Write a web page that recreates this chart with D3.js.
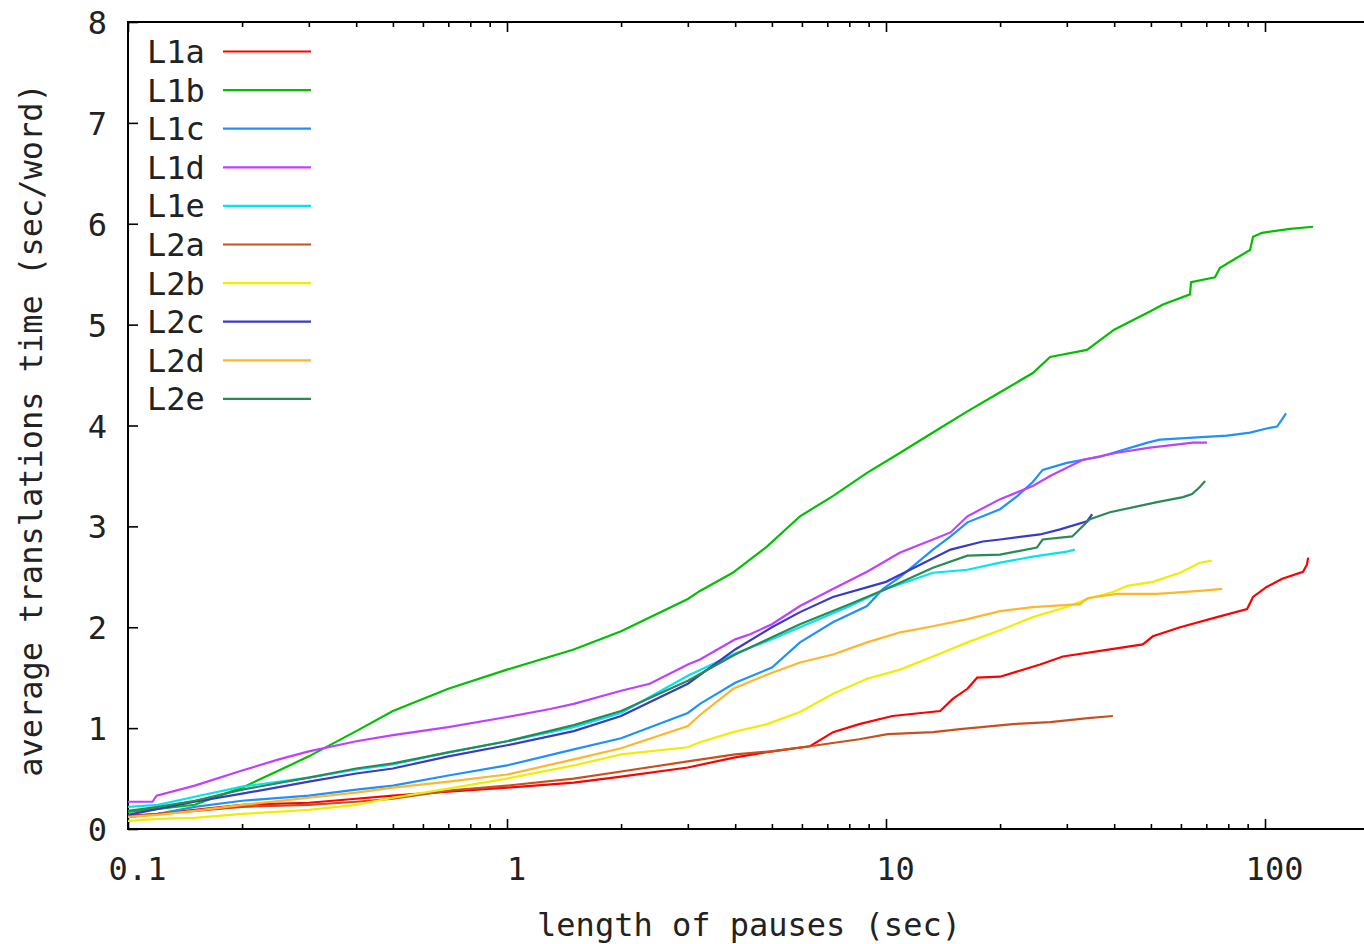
<!DOCTYPE html>
<html>
<head>
<meta charset="utf-8">
<script src="https://cdn.jsdelivr.net/npm/d3@7/dist/d3.min.js"></script>
<style>
  html, body { margin: 0; padding: 0; background: #fff; }
  svg { display: block; }
  text { font-family: "DejaVu Sans Mono", "Liberation Mono", monospace; fill: #222; }
</style>
</head>
<body>
<svg id="chart" width="1364" height="944"></svg>
<script>
// ---- data (x: length of pauses in sec, y: average translation time in sec/word)
const seriesNames = ["L1a","L1b","L1c","L1d","L1e","L2a","L2b","L2c","L2d","L2e"];
const seriesColors = ["#ff0000","#00c000","#1e90ff","#c040ff","#00e5ee","#c8501e","#eeee00","#3a3ac8","#ffb629","#2a8a55"];

const L1a = [[0.1,0.13],[0.12,0.15],[0.15,0.19],[0.2,0.24],[0.3,0.26],[0.4,0.30],[0.5,0.33],[0.7,0.37],[1,0.41],[1.5,0.46],[2,0.52],[3,0.61],[4,0.71],[5,0.77],[6.3,0.82],[7.25,0.96],[8.5,1.04],[10.4,1.12],[13.9,1.17],[15,1.29],[16.4,1.39],[17.4,1.50],[20,1.51],[25.5,1.63],[29.3,1.71],[39,1.78],[47.6,1.83],[50.6,1.91],[59.7,2.0],[74.7,2.10],[89.7,2.18],[93,2.30],[101,2.40],[111,2.48],[126,2.55],[129,2.62],[130,2.69]];
const L1b = [[0.1,0.17],[0.12,0.20],[0.15,0.24],[0.2,0.41],[0.25,0.58],[0.3,0.72],[0.4,0.97],[0.5,1.17],[0.7,1.39],[1,1.58],[1.5,1.78],[2,1.96],[3,2.28],[3.23,2.36],[3.94,2.54],[4.85,2.80],[5.93,3.10],[7.24,3.30],[8.91,3.53],[10.9,3.73],[13.3,3.93],[16.4,4.14],[20,4.33],[24.4,4.52],[27.1,4.68],[33.9,4.75],[40,4.95],[49.7,5.13],[53.8,5.20],[63.4,5.30],[63.8,5.42],[73.8,5.47],[76,5.56],[82.4,5.64],[91.3,5.74],[93,5.87],[98.2,5.91],[116.4,5.95],[134,5.97]];
const L1c = [[0.1,0.12],[0.12,0.15],[0.15,0.22],[0.2,0.28],[0.3,0.33],[0.4,0.39],[0.5,0.43],[0.7,0.53],[1,0.63],[1.5,0.79],[2,0.90],[3,1.15],[3.23,1.24],[4,1.45],[5,1.60],[5.93,1.85],[7.24,2.05],[8.91,2.21],[9.82,2.38],[10.9,2.50],[13.3,2.77],[14.8,2.90],[16.4,3.04],[20,3.17],[22.2,3.30],[24.4,3.44],[25.9,3.56],[30,3.63],[36.7,3.69],[49,3.83],[52.8,3.86],[64.6,3.88],[79.4,3.90],[91.3,3.93],[101,3.97],[107.6,3.99],[110.9,4.06],[113.6,4.12]];
const L1d = [[0.1,0.27],[0.116,0.27],[0.119,0.33],[0.15,0.43],[0.2,0.58],[0.25,0.69],[0.3,0.77],[0.4,0.87],[0.5,0.93],[0.7,1.01],[1,1.11],[1.3,1.19],[1.5,1.24],[2,1.37],[2.38,1.44],[3,1.63],[3.23,1.68],[4,1.88],[4.38,1.93],[5,2.03],[5.93,2.21],[7.24,2.38],[8.91,2.55],[10.9,2.74],[13.3,2.87],[14.8,2.94],[16.4,3.10],[20,3.27],[24.4,3.40],[27.1,3.50],[33.1,3.66],[40.7,3.73],[49.7,3.78],[64.6,3.83],[70.3,3.83]];
const L1e = [[0.1,0.22],[0.12,0.24],[0.15,0.32],[0.2,0.42],[0.3,0.51],[0.4,0.59],[0.5,0.64],[0.7,0.76],[1,0.87],[1.5,1.01],[2,1.15],[3,1.52],[4,1.74],[5,1.88],[5.93,2.0],[8.04,2.21],[10,2.38],[13.3,2.54],[16.4,2.57],[20,2.64],[24.4,2.70],[30,2.75],[31.5,2.77]];
const L2a = [[0.1,0.12],[0.12,0.15],[0.15,0.18],[0.2,0.22],[0.3,0.24],[0.4,0.27],[0.5,0.30],[0.7,0.38],[1,0.43],[1.5,0.50],[2,0.57],[3,0.67],[4,0.74],[5,0.77],[6.3,0.82],[8.5,0.89],[10.1,0.94],[13.3,0.96],[15.7,0.99],[21.6,1.04],[27.1,1.06],[34.1,1.10],[39.7,1.12]];
const L2b = [[0.1,0.08],[0.12,0.10],[0.15,0.11],[0.2,0.15],[0.3,0.19],[0.4,0.24],[0.5,0.31],[0.7,0.40],[1,0.50],[1.5,0.63],[2,0.74],[3,0.81],[3.23,0.86],[3.95,0.96],[4.85,1.04],[5.93,1.16],[7.25,1.34],[8.91,1.49],[10.9,1.58],[13.3,1.71],[16.4,1.85],[20,1.97],[24.4,2.10],[30,2.20],[33.9,2.28],[39.7,2.35],[43.3,2.41],[50.6,2.45],[59.7,2.54],[67.3,2.64],[72.4,2.66]];
const L2c = [[0.1,0.14],[0.12,0.20],[0.15,0.27],[0.2,0.35],[0.3,0.47],[0.4,0.55],[0.5,0.60],[0.7,0.72],[1,0.83],[1.5,0.97],[2,1.12],[3,1.44],[4,1.78],[5,2.00],[5.93,2.15],[7.24,2.30],[10,2.45],[12.3,2.62],[14.8,2.77],[18,2.85],[20,2.87],[25.5,2.92],[28.8,2.97],[33.9,3.05],[35,3.12]];
const L2d = [[0.1,0.12],[0.12,0.14],[0.15,0.18],[0.2,0.24],[0.3,0.31],[0.4,0.36],[0.5,0.41],[0.7,0.47],[1,0.54],[1.5,0.69],[2,0.80],[3,1.02],[3.23,1.13],[3.95,1.39],[4.85,1.53],[5.93,1.65],[7.25,1.73],[8.91,1.85],[10.9,1.95],[13.3,2.01],[16.4,2.08],[20,2.16],[24.4,2.20],[32.5,2.23],[34.1,2.29],[40.7,2.33],[51.9,2.33],[67.3,2.36],[77.1,2.38]];
const L2e = [[0.1,0.18],[0.12,0.22],[0.15,0.28],[0.2,0.39],[0.3,0.51],[0.4,0.60],[0.5,0.65],[0.7,0.76],[1,0.87],[1.5,1.03],[2,1.17],[3,1.47],[4,1.73],[5,1.90],[5.93,2.03],[8.04,2.23],[10,2.38],[13.3,2.59],[16.4,2.71],[20,2.72],[25,2.79],[25.9,2.87],[31,2.90],[34.5,3.07],[39,3.14],[51.9,3.24],[60.8,3.29],[64.2,3.32],[67.3,3.39],[69.5,3.45]];

const seriesValues = [L1a, L1b, L1c, L1d, L1e, L2a, L2b, L2c, L2d, L2e];

const xMajorTicks = [0.1, 1, 10, 100];
const xTickLabels = ["0.1", "1", "10", "100"];
const yTicks = [0, 1, 2, 3, 4, 5, 6, 7, 8];
const xAxisTitle = "length of pauses (sec)";
const yAxisTitle = "average translations time (sec/word)";

(function draw() {
  const svg = d3.select("#chart");
  const pLeft = 128, pTop = 22, pBottom = 829;
  const decade = 379;
  const xMin = 0.1, xMax = 200;
  const pRight = pLeft + decade * Math.log10(xMax / xMin);

  const x = d3.scaleLog().domain([xMin, xMax]).range([pLeft, pRight]);
  const y = d3.scaleLinear().domain([0, 8]).range([pBottom, pTop]);

  const minorTicks = [];
  [0.1, 1, 10, 100].forEach(d => { for (let k = 2; k <= 9; k++) { const v = d * k; if (v < xMax) minorTicks.push(v); } });

  const fontSize = 32;

  function styleAxis(g) {
    g.select(".domain").remove();
    g.selectAll(".tick line").attr("stroke", "#000").attr("stroke-width", 1.6);
    g.selectAll("text").style("font-family", '"DejaVu Sans Mono", monospace').style("font-size", fontSize + "px").attr("fill", "#222");
  }

  svg.append("g").attr("transform", `translate(0,${pBottom})`)
    .call(d3.axisBottom(x).tickValues(xMajorTicks).tickSize(-10).tickFormat((d, i) => xTickLabels[i]))
    .call(styleAxis)
    .call(g => g.selectAll("text").attr("y", 51).attr("dy", 0).attr("dx", 9));
  svg.append("g").attr("transform", `translate(0,${pBottom})`)
    .call(d3.axisBottom(x).tickValues(minorTicks).tickSize(-5).tickFormat(""))
    .call(styleAxis);
  svg.append("g").attr("transform", `translate(0,${pTop})`)
    .call(d3.axisTop(x).tickValues(xMajorTicks).tickSize(-10).tickFormat(""))
    .call(styleAxis);
  svg.append("g").attr("transform", `translate(0,${pTop})`)
    .call(d3.axisTop(x).tickValues(minorTicks).tickSize(-5).tickFormat(""))
    .call(styleAxis);
  svg.append("g").attr("transform", `translate(${pLeft},0)`)
    .call(d3.axisLeft(y).tickValues(yTicks).tickSize(-10).tickFormat(d3.format("d")))
    .call(styleAxis)
    .call(g => g.selectAll("text").attr("x", -21).attr("dy", "0.36em").attr("text-anchor", "end"));

  svg.append("rect")
    .attr("x", pLeft).attr("y", pTop)
    .attr("width", pRight - pLeft).attr("height", pBottom - pTop)
    .attr("fill", "none").attr("stroke", "#000").attr("stroke-width", 2);

  svg.append("clipPath").attr("id", "plotclip")
    .append("rect").attr("x", pLeft).attr("y", pTop).attr("width", pRight - pLeft).attr("height", pBottom - pTop);

  const line = d3.line().x(d => x(d[0])).y(d => y(d[1]));

  const plot = svg.append("g").attr("clip-path", "url(#plotclip)");
  seriesValues.forEach((vals, i) => {
    plot.append("path")
      .datum(vals)
      .attr("fill", "none")
      .attr("stroke", seriesColors[i])
      .attr("stroke-width", 2.2)
      .attr("d", line);
  });

  const legend = svg.append("g");
  seriesNames.forEach((name, i) => {
    const cy = 51.5 + i * 38.6;
    legend.append("text")
      .attr("x", 147).attr("y", cy + 11.5)
      .style("font-size", fontSize + "px")
      .text(name);
    legend.append("line")
      .attr("x1", 223).attr("x2", 311)
      .attr("y1", cy).attr("y2", cy)
      .attr("stroke", seriesColors[i]).attr("stroke-width", 2.2);
  });

  svg.append("text")
    .attr("x", 749).attr("y", 936)
    .attr("text-anchor", "middle")
    .style("font-size", fontSize + "px")
    .text(xAxisTitle);

  svg.append("text")
    .attr("transform", "translate(42,430) rotate(-90)")
    .attr("text-anchor", "middle")
    .style("font-size", fontSize + "px")
    .text(yAxisTitle);
})();
</script>
</body>
</html>
